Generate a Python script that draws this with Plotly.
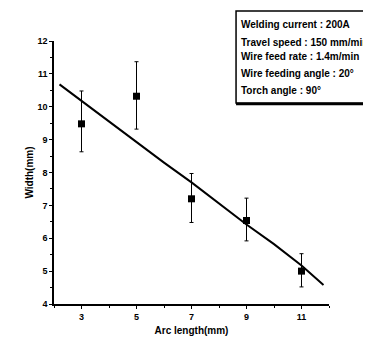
import plotly.graph_objects as go

# Measured data
arc_length = [3, 5, 7, 9, 11]
width_mean = [9.48, 10.32, 7.20, 6.54, 5.00]
err_plus = [1.00, 1.05, 0.77, 0.68, 0.53]
err_minus = [0.85, 1.00, 0.72, 0.62, 0.48]

# Fitted curve
fit_x = [2.2, 3, 4, 5, 6, 7, 8, 9, 10, 11, 11.8]
fit_y = [10.68, 10.18, 9.55, 8.92, 8.30, 7.70, 7.05, 6.42, 5.82, 5.17, 4.58]

x_ticks = [3, 5, 7, 9, 11]
y_ticks = list(range(4, 13))
info_lines = [
    "<b>Welding current : 200A</b>",
    "<b>Travel speed : 150 mm/min</b>",
    "<b>Wire feed rate : 1.4m/min</b>",
    "<b>Wire feeding angle : 20°</b>",
    "<b>Torch angle : 90°</b>",
]

fig = go.Figure()
fig.add_trace(go.Scatter(
    x=fit_x, y=fit_y, mode="lines",
    line=dict(color="black", width=2), showlegend=False, hoverinfo="skip"))
fig.add_trace(go.Scatter(
    x=arc_length, y=width_mean, mode="markers",
    marker=dict(symbol="square", size=7, color="black"),
    error_y=dict(type="data", symmetric=False, array=err_plus, arrayminus=err_minus,
                 color="black", thickness=1, width=2),
    showlegend=False))

font_family = "Liberation Sans, Arial, sans-serif"

# page body has an 8px margin, so the figure is shrunk by 8px
fig.update_layout(
    width=363, height=339,
    margin=dict(l=46, r=42, t=33, b=43),
    paper_bgcolor="white", plot_bgcolor="white",
    font=dict(family=font_family, color="black", size=9),
    xaxis=dict(
        range=[2, 12], tickvals=x_ticks, ticktext=["<b>%d</b>" % v for v in x_ticks],
        ticks="outside", ticklen=3, tickwidth=1, automargin=False,
        tickcolor="black", showline=True, linecolor="black", linewidth=1.5,
        showgrid=False, zeroline=False,
        minor=dict(dtick=1, tick0=2, ticks="outside", ticklen=2, tickcolor="black"),
        tickfont=dict(size=9, family=font_family),
        title=dict(text="<b>Arc length(mm)</b>", font=dict(size=10, family=font_family), standoff=6),
    ),
    yaxis=dict(
        range=[4, 12], tickvals=y_ticks,
        ticktext=["<b>%d</b>" % v for v in y_ticks],
        ticks="outside", ticklen=3, tickwidth=1, automargin=False,
        tickcolor="black", showline=True, linecolor="black", linewidth=1.5,
        showgrid=False, zeroline=False,
        minor=dict(dtick=0.5, ticks="outside", ticklen=2, tickcolor="black"),
        tickfont=dict(size=9, family=font_family),
        title=dict(text="<b>Width(mm)</b>", font=dict(size=10, family=font_family), standoff=2),
    ),
)

# Info box
fig.add_shape(type="rect", xref="paper", yref="paper",
              x0=0.662, x1=1.3, y0=0.764, y1=1.114,
              line=dict(color="black", width=1.5), fillcolor="white", layer="above")
fig.add_shape(type="line", xref="paper", yref="paper",
              x0=0.662, x1=1.3, y0=0.760, y1=0.760,
              line=dict(color="black", width=2.5))

line_y = [1.061, 0.996, 0.940, 0.876, 0.812]
for txt, yy in zip(info_lines, line_y):
    fig.add_annotation(text=txt, xref="paper", yref="paper", x=0.671, y=yy,
                       xanchor="left", yanchor="middle", showarrow=False, align="left",
                       font=dict(size=10, family=font_family, color="black"))

fig.write_html("out.html")
